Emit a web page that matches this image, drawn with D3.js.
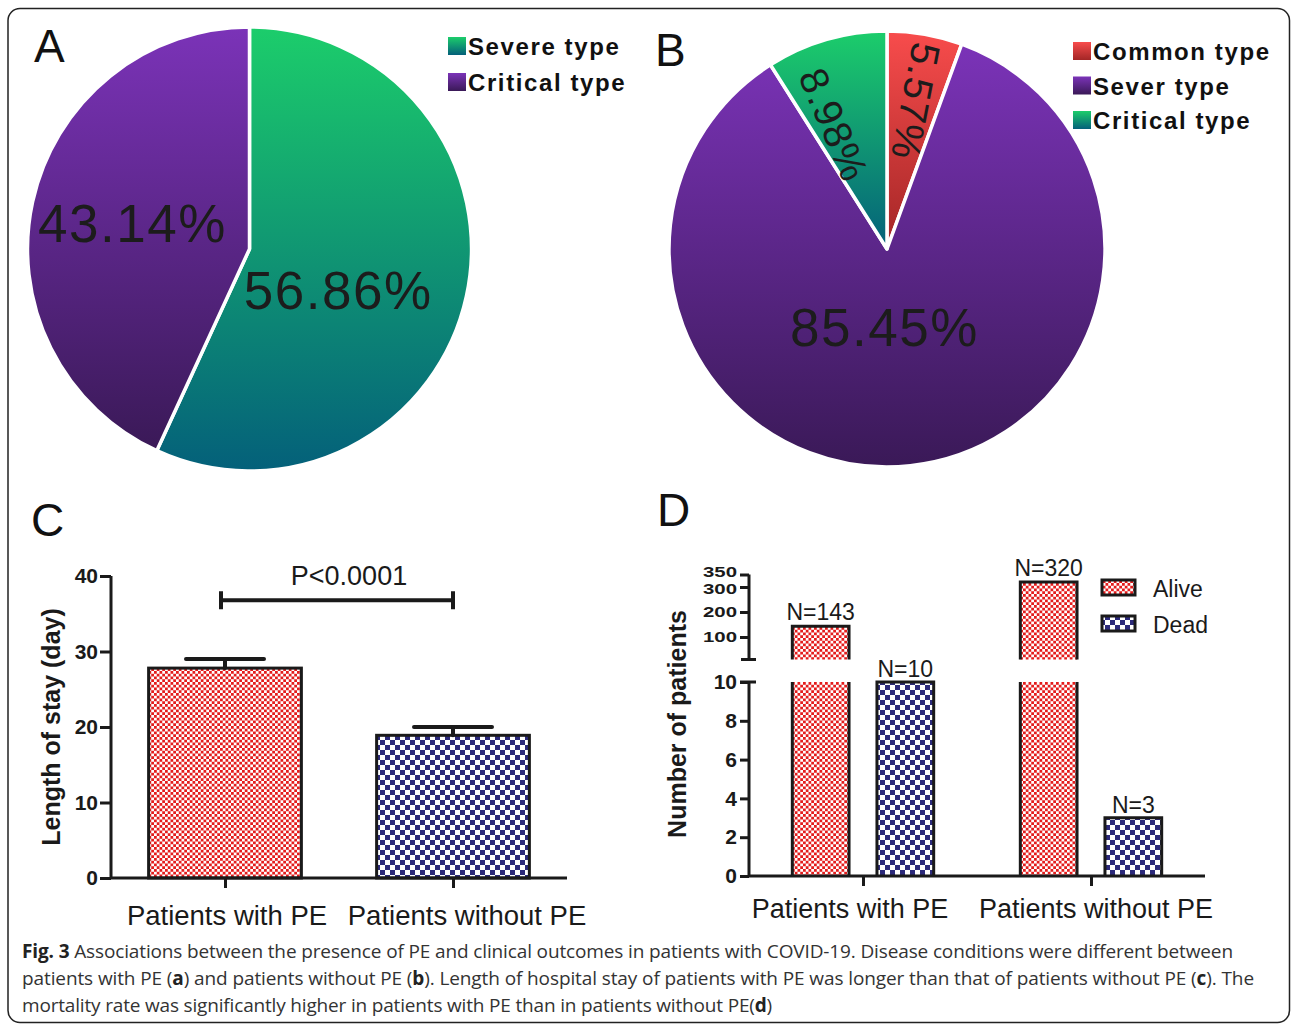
<!DOCTYPE html>
<html>
<head>
<meta charset="utf-8">
<script src="https://cdn.jsdelivr.net/npm/d3@7"></script>
<style>
  html, body { margin: 0; padding: 0; background: #fff; }
  svg { display: block; }
</style>
</head>
<body>
<svg id="fig" width="1292" height="1025"></svg>
<script>
// ---- Data ----
const pieACategories = ["Severe type", "Critical type"];
const pieAValues = [56.86, 43.14];

const pieBCategories = ["Common type", "Sever type", "Critical type"];
const pieBValues = [5.57, 85.45, 8.98];

const stayGroups = ["Patients with PE", "Patients without PE"];
const stayMeans = [27.8, 18.9];
const stayErrors = [1.2, 1.1];
const stayTicks = [0, 10, 20, 30, 40];
const stayPValue = "P<0.0001";

const outcomeGroups = ["Patients with PE", "Patients without PE"];
const outcomeSeries = ["Alive", "Dead"];
const aliveCounts = [143, 320];
const deadCounts = [10, 3];
const lowerTicks = [0, 2, 4, 6, 8, 10];
const upperTicks = [100, 200, 300, 350];

const captionLines = [
  [["Fig. 3", true], [" Associations between the presence of PE and clinical outcomes in patients with COVID-19. Disease conditions were different between", false]],
  [["patients with PE (", false], ["a", true], [") and patients without PE (", false], ["b", true], ["). Length of hospital stay of patients with PE was longer than that of patients without PE (", false], ["c", true], ["). The", false]],
  [["mortality rate was significantly higher in patients with PE than in patients without PE(", false], ["d", true], [")", false]]
];

// ---- Styles ----
const gradStops = {
  green:  ["#1ccd6b", "#04607a"],
  purple: ["#7b33b8", "#3a1957"],
  red:    ["#f84c4c", "#a32626"]
};
const pieAColors = ["green", "purple"];
const pieBColors = ["red", "purple", "green"];
const sansFont = "'Liberation Sans', Arial, sans-serif";

const svg = d3.select("#fig");
svg.append("rect").attr("width", 1292).attr("height", 1025).attr("fill", "#fff");

const defs = svg.append("defs");
Object.entries(gradStops).forEach(([k, [c0, c1]]) => {
  const g = defs.append("linearGradient").attr("id", "grad-" + k)
    .attr("x1", 0).attr("y1", 0).attr("x2", 0).attr("y2", 1);
  g.append("stop").attr("offset", "0%").attr("stop-color", c0);
  g.append("stop").attr("offset", "100%").attr("stop-color", c1);
});

// checkerboard fills for the bars
function checker(id, size, color) {
  const p = defs.append("pattern").attr("id", id).attr("patternUnits", "userSpaceOnUse")
    .attr("width", size * 2).attr("height", size * 2);
  p.append("rect").attr("width", size * 2).attr("height", size * 2).attr("fill", "#fff");
  p.append("rect").attr("width", size).attr("height", size).attr("fill", color);
  p.append("rect").attr("x", size).attr("y", size).attr("width", size).attr("height", size).attr("fill", color);
}
checker("pat-red", 2.75, "#e41c1c");
checker("pat-blue", 5, "#2c2a7a");
const seriesFill = { "Alive": "url(#pat-red)", "Dead": "url(#pat-blue)" };

// outer frame
svg.append("rect").attr("x", 8).attr("y", 8.5).attr("width", 1281.5).attr("height", 1014)
  .attr("rx", 12).attr("fill", "none").attr("stroke", "#222").attr("stroke-width", 1.5);

// panel letters
[["A", 34, 62], ["B", 655, 66], ["C", 31, 536], ["D", 657, 526]].forEach(([t, x, y]) => {
  svg.append("text").attr("x", x).attr("y", y).text(t)
    .attr("font-family", sansFont).attr("font-size", 46).attr("fill", "#111");
});

// ---- Pie helper ----
function drawPie(cfg) {
  const g = svg.append("g").attr("transform", `translate(${cfg.cx},${cfg.cy})`);
  const pie = d3.pie().sort(null).value(d => d)(cfg.values);
  const arc = d3.arc().innerRadius(0).outerRadius(cfg.r);
  g.selectAll("path.slice").data(pie).join("path").attr("class", "slice")
    .attr("d", arc)
    .attr("fill", (d, i) => `url(#grad-${cfg.colors[i]})`)
    .attr("stroke", "#fff").attr("stroke-width", 3.5).attr("stroke-linejoin", "round");

  pie.forEach((d, i) => {
    const L = cfg.labels[i];
    const mid = (d.startAngle + d.endAngle) / 2 + (L.da || 0) * Math.PI / 180;
    const rr = L.r * cfg.r;
    const x = Math.sin(mid) * rr, y = -Math.cos(mid) * rr;
    const txt = d3.format(".2f")(cfg.values[i]) + "%";
    const t = g.append("text")
      .attr("text-anchor", "middle").attr("dominant-baseline", "central")
      .attr("font-family", sansFont).attr("fill", "#1c1c1c")
      .attr("font-size", L.size).attr("letter-spacing", L.ls || 0)
      .text(txt);
    if (L.rotate) {
      const deg = mid * 180 / Math.PI + 90;
      t.attr("transform", `translate(${x},${y}) rotate(${deg})`);
    } else {
      t.attr("x", x).attr("y", y);
    }
  });

  // legend
  const lg = svg.append("g").attr("transform", `translate(${cfg.legendX},${cfg.legendY})`);
  cfg.categories.forEach((c, i) => {
    const row = lg.append("g").attr("transform", `translate(0,${i * cfg.legendStep})`);
    row.append("rect").attr("x", 0).attr("y", -18).attr("width", 18).attr("height", 18)
      .attr("fill", `url(#grad-${cfg.colors[i]})`);
    row.append("text").attr("x", 20).attr("y", 0).text(c)
      .attr("font-family", sansFont).attr("font-weight", "bold").attr("font-size", 24)
      .attr("letter-spacing", 1.6).attr("fill", "#111");
  });
}

drawPie({
  cx: 249.5, cy: 249, r: 222,
  values: pieAValues, categories: pieACategories, colors: pieAColors,
  labels: [{ r: 0.44, da: 12.5, size: 53, ls: 1.5 }, { r: 0.54, da: 0, size: 53, ls: 1.5 }],
  legendX: 448, legendY: 55, legendStep: 36
});

drawPie({
  cx: 887, cy: 249, r: 218,
  values: pieBValues, categories: pieBCategories, colors: pieBColors,
  labels: [{ r: 0.69, da: 1, size: 40, rotate: true, ls: 1 },
           { r: 0.36, da: 8, size: 53, ls: 1.5 },
           { r: 0.62, da: -7, size: 40, rotate: true, ls: 1 }],
  legendX: 1073, legendY: 60, legendStep: 34.5
});

// ---- Panel C: length of stay ----
(function () {
  const x0 = 111, x1 = 567, yBase = 878, yTop = 576;
  const x = d3.scalePoint().domain(stayGroups).range([x0, x1]).padding(0.5);
  const y = d3.scaleLinear().domain([0, 40]).range([yBase, yTop]);
  const bw = x.step() * 0.67;
  const fills = ["url(#pat-red)", "url(#pat-blue)"];
  const g = svg.append("g");

  // bars
  g.selectAll("rect.bar").data(stayMeans).join("rect").attr("class", "bar")
    .attr("x", (d, i) => x(stayGroups[i]) - bw / 2).attr("y", d => y(d))
    .attr("width", bw).attr("height", d => yBase - y(d))
    .attr("fill", (d, i) => fills[i]).attr("stroke", "#1a1a1a").attr("stroke-width", 3);

  // error bars
  stayMeans.forEach((m, i) => {
    const cx = x(stayGroups[i]);
    g.append("path").attr("d", `M${cx},${y(m)}V${y(m + stayErrors[i])}M${cx - 39},${y(m + stayErrors[i])}H${cx + 39}`)
      .attr("stroke", "#1a1a1a").attr("stroke-width", 4).attr("stroke-linecap", "round").attr("fill", "none");
  });

  // axes
  const yAxis = d3.axisLeft(y).tickValues(stayTicks).tickSize(11).tickPadding(2);
  const ya = g.append("g").attr("transform", `translate(${x0},0)`).call(yAxis);
  ya.select(".domain").attr("d", `M0,${yTop}V${yBase}`);
  const xAxis = d3.axisBottom(x).tickSize(10).tickFormat("");
  const xa = g.append("g").attr("transform", `translate(0,${yBase})`).call(xAxis);
  xa.select(".domain").attr("d", `M${x0},0H${x1}`);
  [ya, xa].forEach(a => {
    a.selectAll(".domain, line").attr("stroke", "#1a1a1a").attr("stroke-width", 3);
  });
  ya.selectAll("text").attr("font-family", sansFont).attr("font-weight", "bold")
    .attr("font-size", 21).attr("fill", "#1a1a1a");

  // category labels
  const shifts = [2, 14];
  stayGroups.forEach((s, i) => {
    g.append("text").attr("x", x(s) + shifts[i]).attr("y", 925).attr("text-anchor", "middle")
      .attr("font-family", sansFont).attr("font-size", 27.5).attr("fill", "#1a1a1a").text(s);
  });

  // axis title
  g.append("text").attr("transform", `translate(60,727) rotate(-90)`).attr("text-anchor", "middle")
    .attr("font-family", sansFont).attr("font-weight", "bold").attr("font-size", 25)
    .attr("fill", "#1a1a1a").text("Length of stay (day)");

  // significance bracket
  const by = y(36.8);
  const bx0 = x(stayGroups[0]) - 4, bx1 = x(stayGroups[1]);
  g.append("path").attr("d", `M${bx0},${by - 9}V${by + 9}M${bx0},${by}H${bx1}M${bx1},${by - 9}V${by + 9}`)
    .attr("stroke", "#1a1a1a").attr("stroke-width", 4).attr("fill", "none");
  g.append("text").attr("x", (bx0 + bx1) / 2 + 12).attr("y", by - 15).attr("text-anchor", "middle")
    .attr("font-family", sansFont).attr("font-size", 27).attr("fill", "#1a1a1a").text(stayPValue);
})();

// ---- Panel D: outcomes with broken y-axis ----
(function () {
  const x0 = 749, x1 = 1205, yBase = 876;
  const x = d3.scalePoint().domain(outcomeGroups).range([x0, x1]).padding(0.5);
  const half = x.step() * 0.31;
  const xs = d3.scaleBand().domain(outcomeSeries).range([-half, half]).paddingInner(0.33);
  const yLow = d3.scaleLinear().domain([0, 10]).range([yBase, 682]);
  const yUp = d3.scaleLinear().domain([10, 350]).range([659.5, 574.5]);
  const g = svg.append("g");
  const ink = "#1a1a1a";
  const counts = { "Alive": aliveCounts, "Dead": deadCounts };

  outcomeGroups.forEach((grp, gi) => {
    outcomeSeries.forEach(s => {
      const v = counts[s][gi];
      const bx = x(grp) + xs(s), bw = xs.bandwidth();
      const lowTop = yLow(Math.min(v, 10));
      g.append("rect").attr("x", bx).attr("y", lowTop).attr("width", bw).attr("height", yBase - lowTop)
        .attr("fill", seriesFill[s]);
      if (v > 10) {
        g.append("path").attr("d", `M${bx},${yBase}V${lowTop}M${bx + bw},${lowTop}V${yBase}`)
          .attr("stroke", ink).attr("stroke-width", 3).attr("fill", "none");
        const top = yUp(v), bot = yUp(10);
        g.append("rect").attr("x", bx).attr("y", top).attr("width", bw).attr("height", bot - top)
          .attr("fill", seriesFill[s]);
        g.append("path").attr("d", `M${bx},${bot}V${top}H${bx + bw}V${bot}`)
          .attr("stroke", ink).attr("stroke-width", 3).attr("fill", "none");
        g.append("text").attr("x", bx + bw / 2).attr("y", top - 6).attr("text-anchor", "middle")
          .attr("font-family", sansFont).attr("font-size", 23).attr("fill", ink).text("N=" + v);
      } else {
        g.append("path").attr("d", `M${bx},${yBase}V${lowTop}H${bx + bw}V${yBase}`)
          .attr("stroke", ink).attr("stroke-width", 3).attr("fill", "none");
        g.append("text").attr("x", bx + bw / 2).attr("y", lowTop - 5).attr("text-anchor", "middle")
          .attr("font-family", sansFont).attr("font-size", 23).attr("fill", ink).text("N=" + v);
      }
    });
  });

  // lower y-axis segment
  const la = g.append("g").attr("transform", `translate(${x0},0)`)
    .call(d3.axisLeft(yLow).tickValues(lowerTicks).tickSize(9).tickPadding(3));
  la.select(".domain").attr("d", `M0,${yBase}V${yLow(10)}M-9,${yLow(10)}H7`);
  la.selectAll("text").attr("font-size", 21);
  // upper y-axis segment: compact, slightly spread labels so the two top ticks stay legible
  const ua = g.append("g").attr("transform", `translate(${x0},0)`)
    .call(d3.axisLeft(yUp).tickValues(upperTicks).tickSize(9).tickPadding(3));
  ua.select(".domain").attr("d", `M0,${yUp(10)}V${yUp(350)}M-8,${yUp(10)}H7`);
  ua.selectAll("text").attr("font-size", 14).attr("textLength", 34).attr("lengthAdjust", "spacingAndGlyphs")
    .attr("y", d => d === 350 ? -2.5 : d === 300 ? 2 : 0);
  // x-axis
  const xa = g.append("g").attr("transform", `translate(0,${yBase})`)
    .call(d3.axisBottom(x).tickSize(10).tickFormat(""));
  xa.select(".domain").attr("d", `M${x0},0H${x1}`);
  [la, ua, xa].forEach(a => a.selectAll(".domain, line").attr("stroke", ink).attr("stroke-width", 3));
  [la, ua].forEach(a => a.selectAll("text").attr("font-family", sansFont)
    .attr("font-weight", "bold").attr("fill", ink));

  const shifts = [-13, 5];
  outcomeGroups.forEach((s, i) => {
    g.append("text").attr("x", x(s) + shifts[i]).attr("y", 918).attr("text-anchor", "middle")
      .attr("font-family", sansFont).attr("font-size", 27).attr("fill", ink).text(s);
  });

  g.append("text").attr("transform", `translate(686,724) rotate(-90)`).attr("text-anchor", "middle")
    .attr("font-family", sansFont).attr("font-weight", "bold").attr("font-size", 25)
    .attr("fill", ink).text("Number of patients");

  // legend
  outcomeSeries.forEach((s, i) => {
    const ly = 580 + i * 36;
    g.append("rect").attr("x", 1102).attr("y", ly).attr("width", 33).attr("height", 15)
      .attr("fill", seriesFill[s]).attr("stroke", ink).attr("stroke-width", 3);
    g.append("text").attr("x", 1153).attr("y", ly + 17).attr("font-family", sansFont)
      .attr("font-size", 23).attr("fill", ink).text(s);
  });
})();

// ---- Caption: each line is spread to its column width via letter-spacing ----
const capWidths = [1211, 1232, 750];
captionLines.forEach((parts, li) => {
  const t = svg.append("text").attr("x", 22).attr("y", 958 + li * 27)
    .attr("font-family", "'Open Sans', sans-serif").attr("font-size", 19).attr("fill", "#333");
  parts.forEach(([s, b]) => {
    t.append("tspan").attr("font-weight", b ? "bold" : "normal").attr("fill", b ? "#222" : "#333").text(s);
  });
  const natural = t.node().getComputedTextLength();
  const chars = parts.reduce((n, p) => n + p[0].length, 0);
  t.attr("letter-spacing", ((capWidths[li] - natural) / chars).toFixed(3));
});
</script>
</body>
</html>
